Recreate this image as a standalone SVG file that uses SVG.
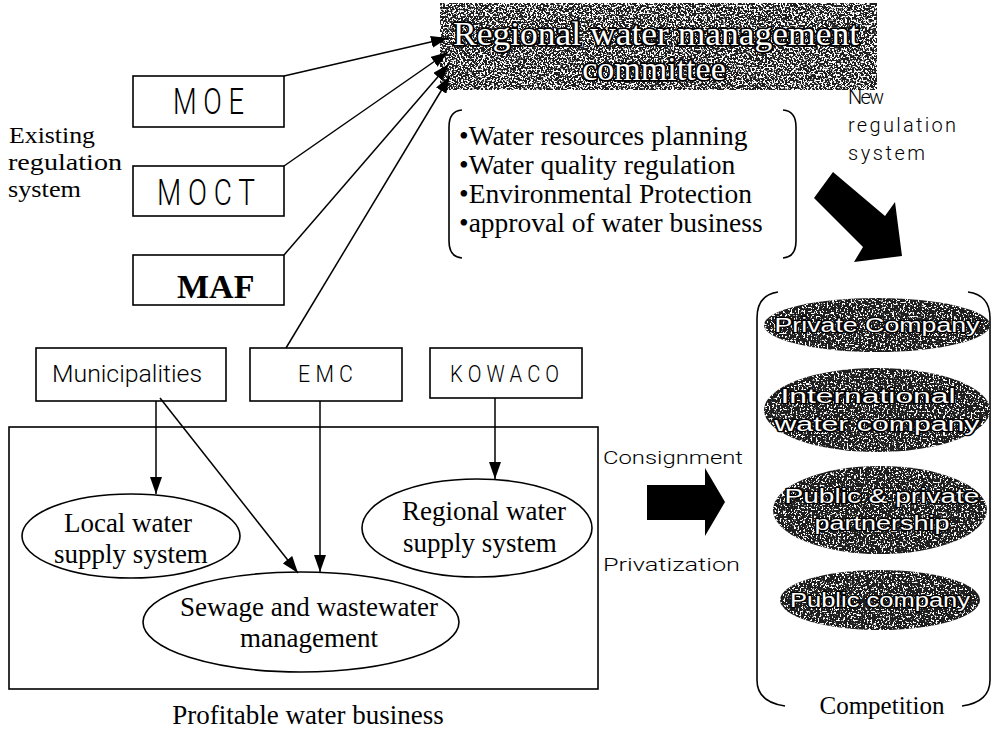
<svg xmlns="http://www.w3.org/2000/svg" width="996" height="730" viewBox="0 0 996 730">
<defs>
<style>
.box{fill:#fff;stroke:#000;stroke-width:1.6}
.ell{fill:#fff;stroke:#000;stroke-width:1.6}
.ln{fill:none;stroke:#000;stroke-width:1.5}
.br{fill:none;stroke:#000;stroke-width:1.6}
.serif{font-family:"Liberation Serif","Times New Roman",serif;fill:#000}
.sans{font-family:Roboto,"Liberation Sans",Arial,sans-serif;font-weight:300;fill:#000}
.inv{font-family:"Liberation Serif","Times New Roman",serif;fill:#fff;stroke:#000;stroke-width:3.5;paint-order:stroke;stroke-linejoin:round}
.invs{font-family:"Liberation Sans",Arial,sans-serif;fill:#fff;stroke:#000;stroke-width:2.5;paint-order:stroke;stroke-linejoin:round}
.dark{fill:#1e1e1e}
</style>
<filter id="speckA" x="0%" y="0%" width="100%" height="100%" color-interpolation-filters="sRGB">
<feTurbulence type="fractalNoise" baseFrequency="0.55" numOctaves="2" seed="7" result="t"/>
<feColorMatrix in="t" type="matrix" values="0 0 0 0 1 0 0 0 0 1 0 0 0 0 1 14 0 0 0 -7.0" result="w"/>
<feComposite in="w" in2="SourceGraphic" operator="in" result="wc"/>
<feMerge><feMergeNode in="SourceGraphic"/><feMergeNode in="wc"/></feMerge>
</filter>
<filter id="speckB" x="0%" y="0%" width="100%" height="100%" color-interpolation-filters="sRGB">
<feTurbulence type="fractalNoise" baseFrequency="0.55" numOctaves="2" seed="3" result="t"/>
<feColorMatrix in="t" type="matrix" values="0 0 0 0 1 0 0 0 0 1 0 0 0 0 1 14 0 0 0 -7.8" result="w"/>
<feComposite in="w" in2="SourceGraphic" operator="in" result="wc"/>
<feMerge><feMergeNode in="SourceGraphic"/><feMergeNode in="wc"/></feMerge>
</filter>
<marker id="ah" markerUnits="userSpaceOnUse" markerWidth="18" markerHeight="12" refX="17" refY="6" orient="auto">
<path d="M0,0 L17,6 L0,12 z" fill="#000"/>
</marker>
</defs>
<rect width="996" height="730" fill="#fff"/>

<g id="committee">
<rect x="440" y="3" width="437" height="87" class="dark" filter="url(#speckA)"/>
<text class="inv" x="656" y="45" font-size="34" text-anchor="middle" textLength="406" lengthAdjust="spacingAndGlyphs">Regional water management</text>
<text class="inv" x="654" y="80" font-size="34" text-anchor="middle">committee</text>
</g>

<g id="existing-label">
<text class="serif" x="9" y="143" font-size="23" textLength="86" lengthAdjust="spacingAndGlyphs">Existing</text>
<text class="serif" x="8" y="170" font-size="23" textLength="114" lengthAdjust="spacingAndGlyphs">regulation</text>
<text class="serif" x="8" y="197" font-size="23" textLength="73" lengthAdjust="spacingAndGlyphs">system</text>
</g>

<g id="moe"><rect x="133" y="76" width="151" height="51" class="box"/>
<text class="sans" x="173" y="114" font-size="36" textLength="71" lengthAdjust="spacingAndGlyphs">M O E</text></g>
<g id="moct"><rect x="133" y="166" width="151" height="50" class="box"/>
<text class="sans" x="157" y="205" font-size="36" textLength="98" lengthAdjust="spacingAndGlyphs">M O C T</text></g>
<g id="maf"><rect x="133" y="255" width="151" height="50" class="box"/>
<text class="serif" x="177" y="298" font-size="34" font-weight="bold">MAF</text></g>

<g id="municipalities"><rect x="36" y="348" width="190" height="53" class="box"/>
<text class="sans" x="52" y="382" font-size="23" textLength="150" lengthAdjust="spacingAndGlyphs">Municipalities</text></g>
<g id="emc"><rect x="250" y="348" width="152" height="53" class="box"/>
<text class="sans" x="298" y="382" font-size="23" textLength="55" lengthAdjust="spacingAndGlyphs">E M C</text></g>
<g id="kowaco"><rect x="430" y="348" width="152" height="50" class="box"/>
<text class="sans" x="450" y="382" font-size="23" textLength="109" lengthAdjust="spacingAndGlyphs">K O W A C O</text></g>

<g id="functions">
<path class="br" d="M462,110 Q449,111 449,127 L449,241 Q449,257 462,258"/>
<path class="br" d="M783,110 Q796,111 796,127 L796,241 Q796,257 783,258"/>
<text class="serif" x="459" y="145" font-size="27.5">•Water resources planning</text>
<text class="serif" x="459" y="174" font-size="27.5">•Water quality regulation</text>
<text class="serif" x="459" y="203" font-size="27.5">•Environmental Protection</text>
<text class="serif" x="459" y="232" font-size="27.5">•approval of water business</text>
</g>

<g id="new-regulation">
<text class="sans" x="848" y="104" font-size="20" textLength="36" lengthAdjust="spacing">New</text>
<text class="sans" x="848" y="132" font-size="20" textLength="108" lengthAdjust="spacing">regulation</text>
<text class="sans" x="848" y="160" font-size="20" textLength="77" lengthAdjust="spacing">system</text>
<polygon points="833,172 885,216 895,202 902,256 854,262 863,247 814,198" fill="#000"/>
</g>

<g id="profitable">
<rect x="9" y="427" width="589" height="262" class="box" fill="none"/>
<text class="serif" x="308" y="724" font-size="27" text-anchor="middle">Profitable water business</text>
</g>

<g id="local"><ellipse cx="131" cy="536" rx="109" ry="42" class="ell"/>
<text class="serif" x="128" y="532" font-size="27" text-anchor="middle">Local water</text>
<text class="serif" x="131" y="563" font-size="27" text-anchor="middle">supply system</text></g>
<g id="regional"><ellipse cx="477" cy="528" rx="115" ry="49" class="ell"/>
<text class="serif" x="484" y="520" font-size="27" text-anchor="middle">Regional water</text>
<text class="serif" x="480" y="552" font-size="27" text-anchor="middle">supply system</text></g>
<g id="sewage"><ellipse cx="301" cy="622" rx="158" ry="50" class="ell"/>
<text class="serif" x="309" y="616" font-size="27" text-anchor="middle">Sewage and wastewater</text>
<text class="serif" x="309" y="647" font-size="27" text-anchor="middle">management</text></g>

<g id="transition">
<text class="sans" x="603" y="464" font-size="19" textLength="140" lengthAdjust="spacingAndGlyphs">Consignment</text>
<text class="sans" x="603" y="571" font-size="19" textLength="137" lengthAdjust="spacingAndGlyphs">Privatization</text>
<polygon points="647,485 705,485 705,468 725,502 705,536 705,520 647,520" fill="#000"/>
</g>

<g id="competition">
<path class="br" d="M778,292 Q757,295 757,318 L757,680 Q757,702 785,706"/>
<path class="br" d="M968,292 Q990,295 990,318 L990,680 Q990,702 962,706"/>
<g id="private-company"><ellipse cx="877" cy="325" rx="113" ry="27" class="dark" filter="url(#speckB)"/>
<text class="invs" x="877" y="332" font-size="20" text-anchor="middle" textLength="205" lengthAdjust="spacingAndGlyphs">Private Company</text></g>
<g id="international"><ellipse cx="877" cy="410" rx="113" ry="42" class="dark" filter="url(#speckB)"/>
<text class="invs" x="868" y="403" font-size="20" text-anchor="middle" textLength="175" lengthAdjust="spacingAndGlyphs">International</text>
<text class="invs" x="877" y="431" font-size="20" text-anchor="middle" textLength="205" lengthAdjust="spacingAndGlyphs">water company</text></g>
<g id="ppp"><ellipse cx="880" cy="510" rx="107" ry="44" class="dark" filter="url(#speckB)"/>
<text class="invs" x="882" y="503" font-size="20" text-anchor="middle" textLength="195" lengthAdjust="spacingAndGlyphs">Public &amp; private</text>
<text class="invs" x="882" y="530" font-size="20" text-anchor="middle" textLength="135" lengthAdjust="spacingAndGlyphs">partnership</text></g>
<g id="public-company"><ellipse cx="880" cy="600" rx="100" ry="30" class="dark" filter="url(#speckB)"/>
<text class="invs" x="880" y="607" font-size="20" text-anchor="middle" textLength="180" lengthAdjust="spacingAndGlyphs">Public company</text></g>
<text class="serif" x="882" y="714" font-size="25" text-anchor="middle">Competition</text>
</g>

<g id="connectors">
<line class="ln" x1="284" y1="76" x2="448" y2="38" marker-end="url(#ah)"/>
<line class="ln" x1="284" y1="166" x2="448" y2="52" marker-end="url(#ah)"/>
<line class="ln" x1="284" y1="255" x2="449" y2="64" marker-end="url(#ah)"/>
<line class="ln" x1="286" y1="348" x2="450" y2="76" marker-end="url(#ah)"/>
<line class="ln" x1="156" y1="401" x2="156" y2="494" marker-end="url(#ah)"/>
<line class="ln" x1="160" y1="398" x2="298" y2="573" marker-end="url(#ah)"/>
<line class="ln" x1="320" y1="401" x2="320" y2="572" marker-end="url(#ah)"/>
<line class="ln" x1="495" y1="398" x2="495" y2="479" marker-end="url(#ah)"/>
</g>
</svg>
